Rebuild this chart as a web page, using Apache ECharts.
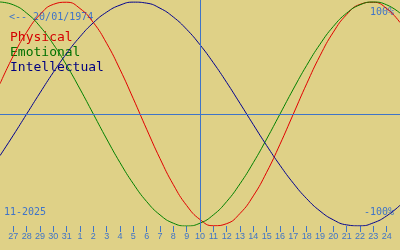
<!DOCTYPE html>
<html><head><meta charset="utf-8">
<script src="https://cdn.jsdelivr.net/npm/echarts@6/dist/echarts.min.js"></script>
<style>html,body{margin:0;padding:0;background:#dfd187}#c{width:400px;height:250px}</style>
</head><body><div id="c"></div>
<script>
// Days shown: 26 Oct 2025 .. 25 Nov 2025
const days = ['26','27','28','29','30','31','1','2','3','4','5','6','7','8','9','10','11','12','13','14','15','16','17','18','19','20','21','22','23','24','25'];
const physical = [0.270,0.520,0.731,0.888,0.979,0.998,0.942,0.817,0.631,0.398,0.136,-0.136,-0.398,-0.631,-0.817,-0.942,-0.998,-0.979,-0.888,-0.731,-0.520,-0.270,0,0.270,0.520,0.731,0.888,0.979,0.998,0.942,0.817];
const emotional = [1,0.975,0.901,0.782,0.623,0.434,0.223,0,-0.223,-0.434,-0.623,-0.782,-0.901,-0.975,-1,-0.975,-0.901,-0.782,-0.623,-0.434,-0.223,0,0.223,0.434,0.623,0.782,0.901,0.975,1,0.975,0.901];
const intellectual = [-0.372,-0.189,0,0.189,0.372,0.541,0.690,0.815,0.910,0.972,0.999,0.990,0.945,0.866,0.756,0.618,0.458,0.282,0.095,-0.095,-0.282,-0.458,-0.618,-0.756,-0.866,-0.945,-0.990,-0.999,-0.972,-0.910,-0.815];
const seriesNames = ['Physical','Emotional','Intellectual'];
const todayLabel = '10';
const birthLabel = '<-- 20/01/1974';
const monthLabel = '11-2025';
const topLabel = '100%';
const bottomLabel = '-100%';

const blue = '#3f74c8';
const colors = ['#e00000','#008000','#000090'];
const textColors = ['#d40000','#007000','#000080'];
const mono = '"DejaVu Sans Mono", monospace';

const chart = echarts.init(document.getElementById('c'), null, {renderer:'canvas'});
const showIdx = (i) => i > 0 && i < days.length - 1;
const todayIdx = days.indexOf(todayLabel);

chart.setOption({
  animation: false,
  backgroundColor: '#dfd187',
  grid: {left: 0, right: 0, top: 0, bottom: 24},
  xAxis: {
    type: 'category', data: days, boundaryGap: false,
    axisLine: {show: false, onZero: false},
    axisTick: {show: true, length: 6, interval: showIdx, lineStyle: {color: blue, width: 1}},
    axisLabel: {interval: showIdx, color: blue, fontSize: 9, margin: 6, fontFamily: '"Liberation Sans", sans-serif'},
    splitLine: {show: false}
  },
  yAxis: {type: 'value', min: -1, max: 1.018, show: false},
  series: [
    {name: seriesNames[0], type: 'line', data: physical, smooth: true, symbol: 'none', lineStyle: {color: colors[0], width: 1},
     markLine: {silent: true, symbol: 'none', label: {show: false}, lineStyle: {color: blue, type: 'solid', width: 1},
       data: [{xAxis: todayIdx}, {yAxis: 0}]}},
    {name: seriesNames[1], type: 'line', data: emotional, smooth: true, symbol: 'none', lineStyle: {color: colors[1], width: 1}},
    {name: seriesNames[2], type: 'line', data: intellectual, smooth: true, symbol: 'none', lineStyle: {color: colors[2], width: 1}}
  ],
  graphic: [
    {type: 'text', x: 9, y: 17, style: {text: birthLabel, fill: blue, font: '10px ' + mono, verticalAlign: 'middle'}},
    {type: 'text', x: 10, y: 38, style: {text: seriesNames[0], fill: textColors[0], font: '13px ' + mono, verticalAlign: 'middle'}},
    {type: 'text', x: 10, y: 53, style: {text: seriesNames[1], fill: textColors[1], font: '13px ' + mono, verticalAlign: 'middle'}},
    {type: 'text', x: 10, y: 68, style: {text: seriesNames[2], fill: textColors[2], font: '13px ' + mono, verticalAlign: 'middle'}},
    {type: 'text', x: 394, y: 12, style: {text: topLabel, fill: blue, font: '10px ' + mono, align: 'right', verticalAlign: 'middle'}},
    {type: 'text', x: 394, y: 212.5, style: {text: bottomLabel, fill: blue, font: '10px ' + mono, align: 'right', verticalAlign: 'middle'}},
    {type: 'text', x: 4, y: 212, style: {text: monthLabel, fill: blue, font: '10px ' + mono, verticalAlign: 'middle'}}
  ]
});
</script></body></html>
